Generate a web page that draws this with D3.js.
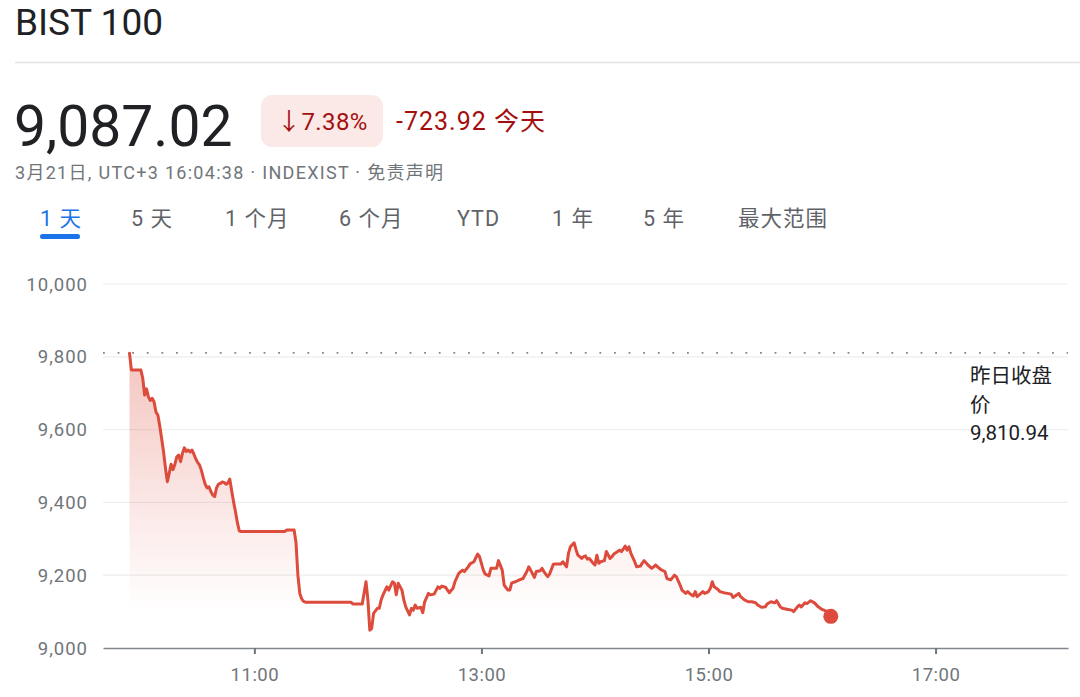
<!DOCTYPE html>
<html>
<head>
<meta charset="utf-8">
<script src="https://cdn.jsdelivr.net/npm/d3@7"></script>
<style>
  html, body { margin: 0; padding: 0; background: #fff; }
  svg { display: block; font-family: Roboto, "Noto Sans", "Noto Sans CJK SC", sans-serif; }
</style>
</head>
<body>
<svg id="chart" width="1080" height="697"></svg>
<script>
// ---------- data ----------
const title = "BIST 100";
const lastPrice = 9087.02;
const changePct = "7.38%";
const changeAbs = "-723.92";
const prevClose = 9810.94;
const subtitle = "3月21日, UTC+3 16:04:38 · INDEXIST · 免责声明";
const tabs = ["1 天", "5 天", "1 个月", "6 个月", "YTD", "1 年", "5 年", "最大范围"];
const yTicks = [9000, 9200, 9400, 9600, 9800, 10000];
const xTicks = ["11:00", "13:00", "15:00", "17:00"];
const xDomain = ["09:40", "18:10"];

const times = [
  "09:54","09:55","10:00","10:01","10:02","10:03","10:04","10:05","10:06","10:07",
  "10:08","10:09","10:10","10:11","10:12","10:13","10:14","10:15","10:16","10:17",
  "10:18","10:19","10:20","10:21","10:22","10:23","10:24","10:25","10:26","10:27",
  "10:28","10:29","10:30","10:31","10:32","10:33","10:34","10:35","10:36","10:37",
  "10:38","10:39","10:40","10:41","10:42","10:43","10:44","10:45","10:46","10:47",
  "10:48","10:49","10:50","10:51","10:52","10:53","11:16","11:17","11:21","11:22",
  "11:23","11:24","11:25","11:26","11:27","11:51","11:52","11:57","11:59","12:00",
  "12:01","12:02","12:03","12:05","12:06","12:07","12:08","12:10","12:11","12:13",
  "12:14","12:15","12:16","12:18","12:19","12:20","12:22","12:23","12:24","12:25",
  "12:26","12:28","12:29","12:30","12:32","12:33","12:35","12:37","12:38","12:39",
  "12:41","12:43","12:45","12:46","12:48","12:50","12:51","12:53","12:54","12:56",
  "12:58","12:59","13:01","13:02","13:04","13:05","13:08","13:09","13:11","13:12",
  "13:14","13:15","13:16","13:18","13:20","13:22","13:24","13:25","13:26","13:28",
  "13:29","13:31","13:32","13:33","13:35","13:36","13:38","13:39","13:42","13:43",
  "13:45","13:46","13:47","13:49","13:50","13:51","13:53","13:54","13:55","13:56",
  "13:57","13:59","14:00","14:01","14:02","14:03","14:05","14:06","14:08","14:09",
  "14:10","14:12","14:13","14:14","14:16","14:17","14:18","14:19","14:21","14:22",
  "14:24","14:25","14:26","14:28","14:30","14:31","14:32","14:34","14:35","14:37",
  "14:38","14:40","14:42","14:43","14:45","14:46","14:48","14:49","14:50","14:52",
  "14:53","14:54","14:56","14:57","14:58","15:00","15:01","15:02","15:03","15:05",
  "15:06","15:08","15:10","15:12","15:13","15:15","15:16","15:17","15:19","15:21",
  "15:23","15:25","15:26","15:28","15:30","15:31","15:33","15:35","15:36","15:38",
  "15:39","15:42","15:44","15:45","15:47","15:48","15:49","15:51","15:52","15:54",
  "15:56","15:58","16:00","16:02","16:04","16:04:38"
];
const values = [
  9810,9764,9764,9741,9695,9712,9690,9680,9686,9676,
  9648,9640,9610,9575,9539,9495,9457,9480,9505,9490,
  9505,9525,9530,9512,9535,9550,9540,9544,9539,9544,
  9533,9520,9510,9503,9488,9468,9450,9440,9443,9430,
  9420,9416,9440,9450,9452,9456,9455,9450,9453,9464,
  9432,9402,9375,9345,9322,9320,9320,9324,9324,9290,
  9200,9150,9135,9128,9126,9126,9121,9121,9182,9132,
  9049,9054,9095,9109,9109,9132,9146,9168,9159,9182,
  9178,9146,9178,9159,9132,9113,9091,9109,9104,9118,
  9109,9112,9097,9127,9150,9146,9148,9168,9164,9170,
  9167,9152,9164,9182,9205,9214,9210,9223,9231,9237,
  9258,9251,9214,9203,9198,9219,9219,9240,9214,9173,
  9159,9159,9179,9182,9187,9191,9210,9223,9214,9194,
  9210,9212,9219,9210,9196,9203,9230,9231,9231,9237,
  9223,9260,9278,9289,9270,9255,9246,9251,9253,9244,
  9246,9233,9228,9255,9233,9237,9240,9265,9246,9251,
  9258,9265,9269,9265,9280,9269,9278,9260,9237,9223,
  9225,9233,9240,9228,9219,9223,9228,9219,9215,9210,
  9191,9187,9200,9196,9173,9159,9150,9155,9150,9143,
  9155,9141,9150,9155,9150,9155,9164,9182,9168,9161,
  9155,9152,9150,9148,9139,9146,9150,9141,9132,9127,
  9127,9124,9118,9112,9113,9121,9127,9124,9130,9113,
  9109,9106,9104,9100,9113,9118,9113,9124,9122,9130,
  9124,9113,9106,9102,9095,9087.02
];

// ---------- setup ----------
const svg = d3.select("#chart");
const parseHM = d3.timeParse("%H:%M");
const parseHMS = d3.timeParse("%H:%M:%S");
const parseT = s => parseHMS(s) || parseHM(s);
const data = times.map((t, i) => ({ t: parseT(t), v: values[i] }));

const plot = { left: 103, right: 1068, top: 284, bottom: 648 };
const x = d3.scaleTime().domain(xDomain.map(parseT)).range([plot.left, plot.right]);
const y = d3.scaleLinear().domain([9000, 10000]).range([plot.bottom, plot.top]);

const lineColor = "#dc4b3b";
const grey = "#70757a";

// ---------- header ----------
svg.append("text").attr("x", 15).attr("y", 35)
  .attr("font-size", 37).attr("fill", "#202124").text(title);
svg.append("line").attr("x1", 15).attr("x2", 1080).attr("y1", 62.5).attr("y2", 62.5)
  .attr("stroke", "#e3e3e3").attr("stroke-width", 1.5);

svg.append("text").attr("x", 14).attr("y", 146)
  .attr("font-size", 57).attr("fill", "#202124").text(d3.format(",.2f")(lastPrice));

svg.append("rect").attr("x", 261).attr("y", 95).attr("width", 122).attr("height", 52)
  .attr("rx", 11).attr("fill", "#fbe9e7");
svg.append("text").attr("x", 277).attr("y", 130)
  .attr("font-size", 24).attr("letter-spacing", 0.4).attr("fill", "#a50e0e").text("↓" + changePct);
svg.append("text").attr("x", 396).attr("y", 130)
  .attr("font-size", 25).attr("letter-spacing", 1).attr("fill", "#a50e0e").text(changeAbs + " 今天");

svg.append("text").attr("x", 15).attr("y", 179)
  .attr("font-size", 18).attr("fill", grey)
  .attr("textLength", 428).attr("lengthAdjust", "spacing").text(subtitle);

const tabX = [40, 131, 225, 339, 457, 552, 643, 738];
tabs.forEach((t, i) => {
  svg.append("text").attr("x", tabX[i]).attr("y", 226)
    .attr("font-size", 21.5).attr("fill", i === 0 ? "#1a73e8" : "#5f6368")
    .attr("letter-spacing", 1).text(t);
});
svg.append("rect").attr("x", 40).attr("y", 234).attr("width", 40).attr("height", 5)
  .attr("rx", 2.5).attr("fill", "#1a73e8");

// ---------- grid ----------
svg.append("g").selectAll("line").data(yTicks.filter(d => d !== 9000)).join("line")
  .attr("x1", plot.left).attr("x2", plot.right)
  .attr("y1", d => y(d)).attr("y2", d => y(d))
  .attr("stroke", "#eeeeee").attr("stroke-width", 1.2);

// y labels
svg.append("g").selectAll("text").data(yTicks).join("text")
  .attr("x", 88).attr("y", d => y(d)).attr("dy", "0.36em")
  .attr("text-anchor", "end").attr("font-size", 18.5).attr("letter-spacing", 1)
  .attr("fill", grey)
  .text(d => d3.format(",")(d));

// x axis
const xAxis = d3.axisBottom(x)
  .tickValues(xTicks.map(parseT))
  .tickFormat(d3.timeFormat("%H:%M"))
  .tickSize(6).tickPadding(14).tickSizeOuter(0);
const gx = svg.append("g").attr("transform", `translate(0,${plot.bottom})`).call(xAxis);
gx.select(".domain").attr("stroke", "#80868b").attr("stroke-width", 1.5);
gx.selectAll(".tick line").attr("stroke", "#70757a").attr("stroke-width", 2);
gx.selectAll(".tick text").attr("font-size", 18.5).attr("letter-spacing", 0.5).attr("fill", grey)
  .attr("font-family", "Roboto, sans-serif");

// ---------- area + line ----------
const defs = svg.append("defs");
const grad = defs.append("linearGradient").attr("id", "fillGrad")
  .attr("gradientUnits", "userSpaceOnUse")
  .attr("x1", 0).attr("x2", 0).attr("y1", y(prevClose)).attr("y2", 612);
grad.append("stop").attr("offset", 0).attr("stop-color", lineColor).attr("stop-opacity", 0.32);
grad.append("stop").attr("offset", 1).attr("stop-color", lineColor).attr("stop-opacity", 0);

svg.append("path").datum(data)
  .attr("fill", "url(#fillGrad)")
  .attr("d", d3.area().x(d => x(d.t)).y0(y(9000)).y1(d => y(d.v)));

// previous close dotted line
svg.append("line").attr("x1", plot.left).attr("x2", plot.right)
  .attr("y1", y(prevClose)).attr("y2", y(prevClose))
  .attr("stroke", "#80868b").attr("stroke-width", 1.8)
  .attr("stroke-dasharray", "1.8,12.8");

svg.append("path").datum(data)
  .attr("fill", "none").attr("stroke", lineColor).attr("stroke-width", 3)
  .attr("stroke-linejoin", "round").attr("stroke-linecap", "round")
  .attr("d", d3.line().x(d => x(d.t)).y(d => y(d.v)));

const last = data[data.length - 1];
svg.append("circle").attr("cx", x(last.t)).attr("cy", y(last.v)).attr("r", 7.5)
  .attr("fill", lineColor);

// prev close label
const pcLines = ["昨日收盘", "价", d3.format(",.2f")(prevClose)];
svg.append("g").selectAll("text").data(pcLines).join("text")
  .attr("x", 970).attr("y", (d, i) => 383 + i * 28.5)
  .attr("font-size", 20.5).attr("fill", "#202124").text(d => d);
</script>
</body>
</html>
